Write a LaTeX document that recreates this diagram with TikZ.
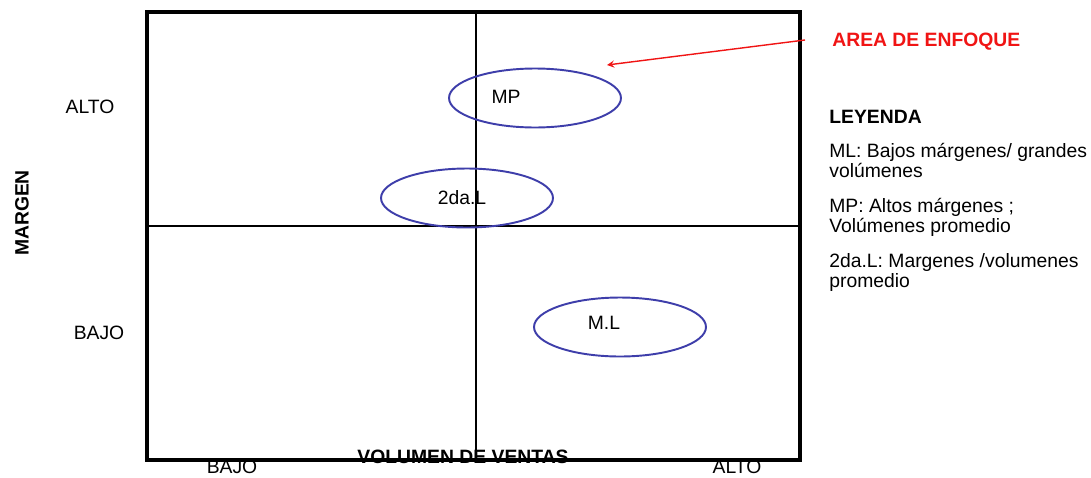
\documentclass[tikz,border=0pt]{standalone}
\usepackage{fontspec}
\setmainfont{Liberation Sans}
\usetikzlibrary{arrows,positioning,shapes.geometric}
\definecolor{cBlu}{RGB}{ 62, 62,170}
\definecolor{cRed}{RGB}{240, 20, 20}
\tikzset{
  lab/.style   ={font=\fontsize{11}{12}\selectfont,inner sep=0pt},
  labb/.style  ={lab,font=\fontsize{11}{12}\selectfont\bfseries},
  ley/.style   ={font=\fontsize{11}{11.2}\selectfont,inner sep=0pt,align=left,anchor=north west},
  seg/.style   ={ellipse,draw=cBlu,line width=1.1pt,minimum width=3.44cm,minimum height=1.18cm,inner sep=0pt},
  fl/.style    ={->,>=stealth,draw=cRed,line width=0.8pt},
}
\begin{document}
\begin{tikzpicture}[x=0.02cm,y=-0.02cm]
\useasboundingbox (0,0) rectangle (1091,477);

%% ================= matrix frame ========================================
\draw[line width=1.8pt] (147,12) rectangle (800,460);
\draw[line width=0.9pt] (476,12) -- (476,460);
\draw[line width=0.9pt] (147,226) -- (800,226);

%% ================= segments ============================================
\node[seg] (mp) at (535,98) {};
\node[seg] (sl) at (467,198) {};
\node[seg] (ml) at (620,327) {};
\node[lab] (mpt) at (506,97)  {MP};
\node[lab] (slt) at (462,198) {2da.L};
\node[lab] (mlt) at (604,323) {M.L};

%% ================= axes ================================================
\node[lab] (ya) at (90,107)  {ALTO};
\node[lab] (yb) at (99,333)  {BAJO};
\node[labb,rotate=90] (ym) at (22,213) {MARGEN};
\node[lab] (xb) at (232,467) {BAJO};
\node[lab] (xa) at (737,467) {ALTO};
\node[labb] (xv) at (463,457) {VOLUMEN DE VENTAS};

%% ================= focus + legend ======================================
\node[labb,text=cRed,anchor=west] (af) at (832,42) {AREA DE ENFOQUE};
\coordinate (afs) at (805,40);
\draw[fl] (afs) -- (607,65);

\node[labb,anchor=west] (ley) at (829,117) {LEYENDA};
\node[ley] (l1) at (829,143) {ML: Bajos márgenes/ grandes\\volúmenes};
\node[ley] (l2) at (829,198) {MP: Altos márgenes ;\\Volúmenes promedio};
\node[ley] (l3) at (829,253) {2da.L: Margenes /volumenes\\promedio};

\end{tikzpicture}
\end{document}
